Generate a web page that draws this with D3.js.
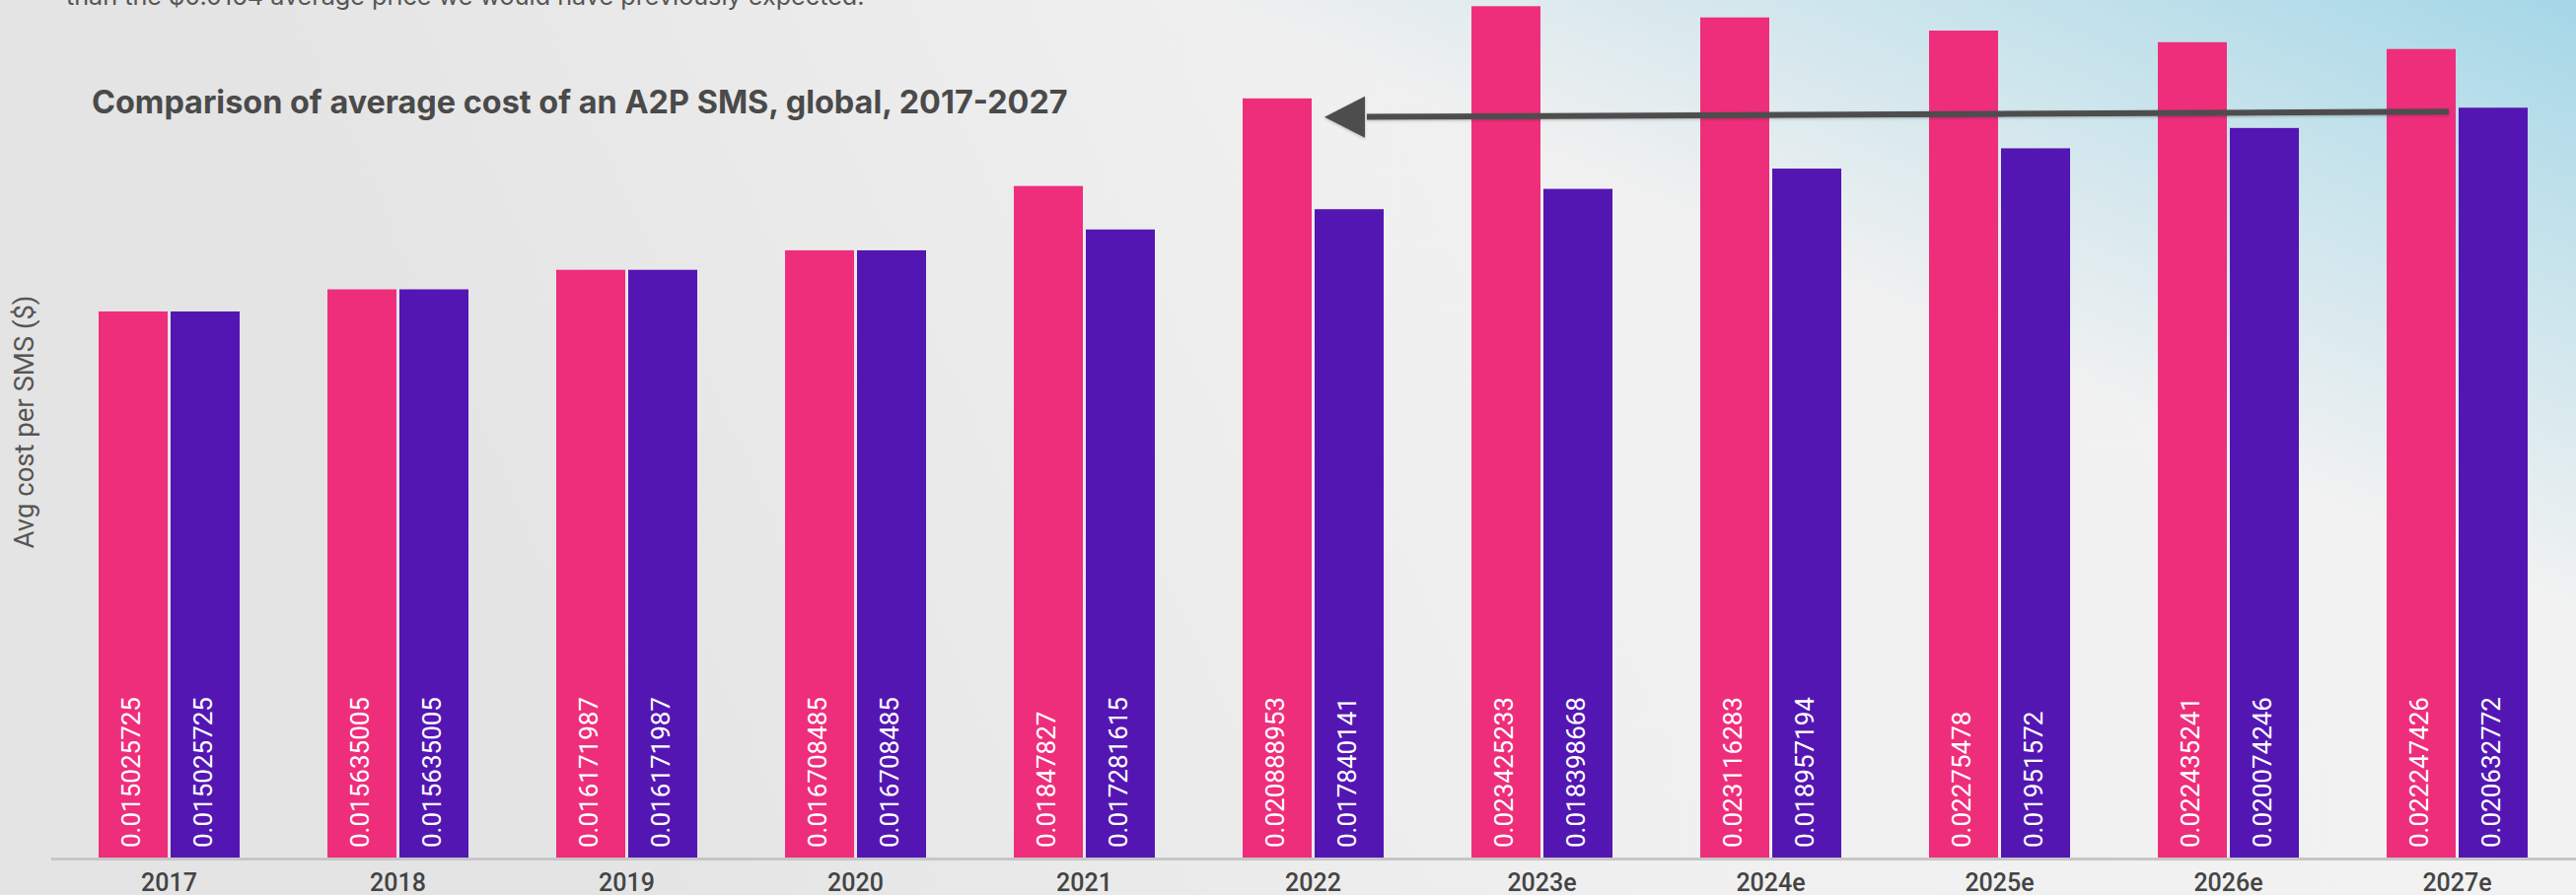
<!DOCTYPE html>
<html>
<head>
<meta charset="utf-8">
<script src="https://cdn.jsdelivr.net/npm/d3@7/dist/d3.min.js"></script>
<style>
  html, body { margin: 0; padding: 0; background: #efefef; }
  svg { display: block; }
</style>
</head>
<body>
<svg id="chart" width="2612" height="908"></svg>
<script>
// Average cost of an A2P SMS, global (US$)
const years = ["2017", "2018", "2019", "2020", "2021", "2022", "2023e", "2024e", "2025e", "2026e", "2027e"];
const previousForecast = [0.015025725, 0.015635005, 0.016171987, 0.016708485, 0.01847827, 0.020888953,
  0.023425233, 0.023116283, 0.02275478, 0.022435241, 0.022247426];
const currentForecast = [0.015025725, 0.015635005, 0.016171987, 0.016708485, 0.017281615, 0.017840141,
  0.018398668, 0.018957194, 0.01951572, 0.020074246, 0.020632772];
const seriesKeys = ["previous", "current"];
const seriesColors = ["#ee2e7b", "#5416b3"];

const titleText = "Comparison of average cost of an A2P SMS, global, 2017-2027";
const leadText = "than the $0.0164 average price we would have previously expected.";
const yAxisLabel = "Avg cost per SMS ($)";

const W = 2612, H = 908;
const svg = d3.select("#chart");

// ---- background: soft grey with a pale blue wash in the top-right corner
const defs = svg.append("defs");
const base = defs.append("linearGradient").attr("id", "bgBase")
  .attr("gradientUnits", "userSpaceOnUse")
  .attr("x1", 2612).attr("y1", 0).attr("x2", 600).attr("y2", 908);
base.append("stop").attr("offset", 0).attr("stop-color", "#f3f3f3");
base.append("stop").attr("offset", 0.55).attr("stop-color", "#f0f0f0");
base.append("stop").attr("offset", 1).attr("stop-color", "#e4e4e4");

const wash = defs.append("linearGradient").attr("id", "bgWash")
  .attr("gradientUnits", "userSpaceOnUse")
  .attr("x1", 2380).attr("y1", 520).attr("x2", 2612).attr("y2", 0);
wash.append("stop").attr("offset", 0).attr("stop-color", "#a5d7e7").attr("stop-opacity", 0);
wash.append("stop").attr("offset", 0.45).attr("stop-color", "#a5d7e7").attr("stop-opacity", 0.45);
wash.append("stop").attr("offset", 1).attr("stop-color", "#a5d7e7").attr("stop-opacity", 1);

const shadow = defs.append("filter").attr("id", "arrowShadow")
  .attr("x", "-5%").attr("y", "-50%").attr("width", "110%").attr("height", "200%");
shadow.append("feDropShadow").attr("dx", 0).attr("dy", 1).attr("stdDeviation", 1.5)
  .attr("flood-color", "#000").attr("flood-opacity", 0.25);

svg.append("rect").attr("width", W).attr("height", H).attr("fill", "url(#bgBase)");
svg.append("rect").attr("width", W).attr("height", H).attr("fill", "url(#bgWash)");

// ---- scales
const baseY = 870;
const y = d3.scaleLinear().domain([0, 0.024]).range([baseY, baseY - 0.024 * 36871]);
const x0 = d3.scaleBand().domain(years).range([55.5, 2607.5])
  .paddingInner(0.3836).paddingOuter(0.1918);
const x1 = d3.scaleBand().domain(seriesKeys).range([0, x0.bandwidth()])
  .paddingInner(3 / 73).paddingOuter(0);
const color = d3.scaleOrdinal().domain(seriesKeys).range(seriesColors);

const rows = years.map((yr, i) => ({
  year: yr,
  values: [
    { key: "previous", value: previousForecast[i] },
    { key: "current", value: currentForecast[i] }
  ]
}));

// ---- bars
const groups = svg.append("g").selectAll("g").data(rows).join("g")
  .attr("transform", d => `translate(${x0(d.year)},0)`);

groups.selectAll("rect").data(d => d.values).join("rect")
  .attr("x", d => x1(d.key))
  .attr("y", d => y(d.value))
  .attr("width", x1.bandwidth())
  .attr("height", d => y(0) - y(d.value))
  .attr("fill", d => color(d.key));

// value labels, rotated inside each bar
groups.selectAll("text").data(d => d.values).join("text")
  .attr("transform", d => `translate(${x1(d.key) + x1.bandwidth() / 2 + 7},${y(0) - 10}) rotate(-90)`)
  .attr("text-anchor", "start")
  .attr("font-family", "Roboto, sans-serif")
  .attr("font-size", 26)
  .attr("fill", "#ffffff")
  .text(d => String(d.value));

// ---- x axis
const xAxis = svg.append("g").attr("transform", `translate(0,${baseY})`)
  .call(d3.axisBottom(x0).tickSize(0).tickPadding(16));
xAxis.select(".domain").remove();
xAxis.append("line").attr("x1", 52).attr("x2", W).attr("y1", 1.5).attr("y2", 1.5)
  .attr("stroke", "#c6c6c6").attr("stroke-width", 3);
xAxis.selectAll(".tick text")
  .attr("font-family", "Roboto, sans-serif")
  .attr("font-weight", 500)
  .attr("font-size", 25)
  .attr("fill", "#444444");

// ---- y axis title
svg.append("text")
  .attr("transform", `translate(33.5,428) rotate(-90)`)
  .attr("text-anchor", "middle")
  .attr("font-family", "Roboto, sans-serif")
  .attr("font-size", 27.5)
  .attr("fill", "#555555")
  .text(yAxisLabel);

// ---- chart title, fitted to its column width
const title = svg.append("text")
  .attr("x", 93).attr("y", 115)
  .attr("font-family", "Inter, 'Open Sans', sans-serif")
  .attr("font-weight", 700)
  .attr("font-size", 32)
  .attr("fill", "#4a4a4a")
  .text(titleText);
const tw = title.node().getComputedTextLength();
title.attr("font-size", 32 * 990 / tw);

// ---- trailing line of the paragraph above the chart
const lead = svg.append("text")
  .attr("x", 67).attr("y", 5)
  .attr("font-family", "Inter, 'Open Sans', sans-serif")
  .attr("font-size", 24)
  .attr("fill", "#555555")
  .text(leadText);
const lw = lead.node().getComputedTextLength();
lead.attr("font-size", 24 * 810 / lw);

// ---- arrow from the 2027 revised level back to the 2022 previous bar
const last = years.length - 1;
const tail = [x0(years[last]) + x1("previous") + 63, y(currentForecast[last]) + 4];
const tip = [x0(years[5]) + x1("previous") + x1.bandwidth() + 13, y(previousForecast[5]) + 19];
const headLen = 41, headHalf = 21;
const headBack = [tip[0] + headLen, tip[1] + (tail[1] - tip[1]) * headLen / (tail[0] - tip[0])];

const arrow = svg.append("g").attr("filter", "url(#arrowShadow)");
arrow.append("line")
  .attr("x1", tail[0]).attr("y1", tail[1])
  .attr("x2", headBack[0] + 2).attr("y2", headBack[1])
  .attr("stroke", "#4d4d4d").attr("stroke-width", 6);
arrow.append("path")
  .attr("d", d3.line()([tip, [headBack[0], tip[1] - headHalf], [headBack[0], tip[1] + headHalf]]) + "Z")
  .attr("fill", "#4d4d4d");
</script>
</body>
</html>
